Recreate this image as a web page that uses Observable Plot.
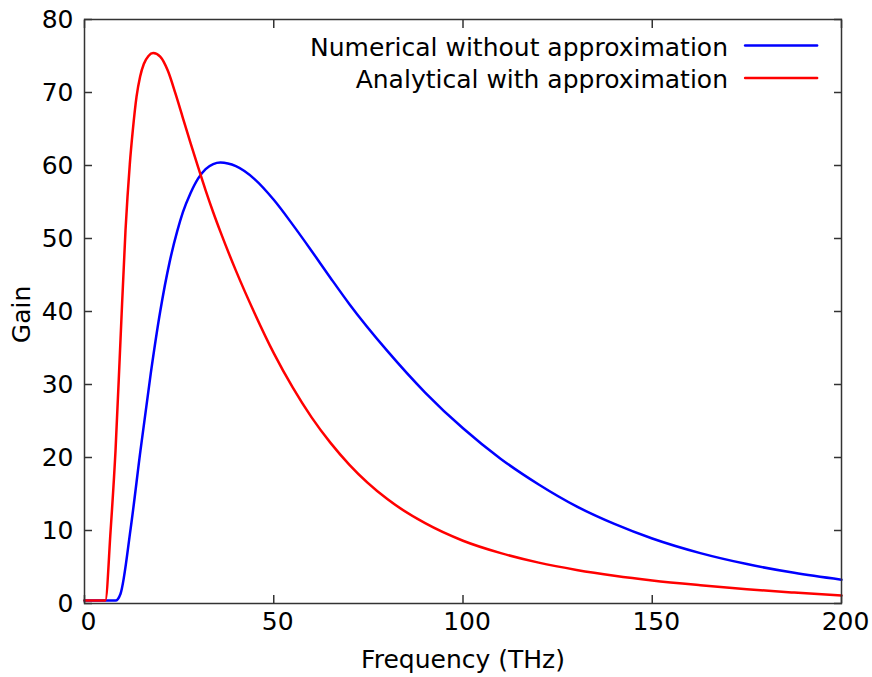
<!DOCTYPE html>
<html>
<head>
<meta charset="utf-8">
<script src="https://cdn.jsdelivr.net/npm/d3@7"></script>
<script src="https://cdn.jsdelivr.net/npm/@observablehq/plot@0.6"></script>
<style>
  html, body { margin: 0; padding: 0; background: white; }
</style>
</head>
<body>
<div id="chart"></div>
<script>
// Numerical without approximation (blue)
const freqNumerical = [0, 8.2, 9.5, 12.2, 14.8, 17.5, 20, 22.5, 24.5, 26, 28, 30, 32, 34, 35.9, 40, 45, 50, 55, 60, 65, 70, 80, 90, 100, 110, 120, 130, 140, 150, 162.7, 175, 187.5, 200];
const gainNumerical = [0.4, 0.4, 1.3, 10.3, 21, 31.5, 40, 46.8, 51.0, 53.6, 56.2, 58.2, 59.5, 60.2, 60.4, 59.9, 58.1, 55.3, 51.9, 48.3, 44.6, 41.0, 34.6, 28.9, 24.0, 19.8, 16.3, 13.3, 10.9, 8.9, 6.9, 5.4, 4.2, 3.25];

// Analytical with approximation (red)
const freqAnalytical = [0, 5.5, 6.9, 8.2, 9.5, 10.83, 11.36, 11.97, 12.76, 13.74, 14.7, 15.67, 16.9, 18.15, 20, 22, 24, 26, 28, 30, 32, 34, 36, 40, 45, 50, 55, 60, 65, 70, 80, 90, 100, 110, 120, 130, 140, 150, 162.7, 175, 187.5, 200];
const gainAnalytical = [0.4, 0.4, 10, 21, 36, 51.1, 55.7, 60.2, 64.8, 69.4, 72.2, 73.9, 75.0, 75.4, 74.9, 73.0, 69.9, 66.5, 63.1, 59.8, 56.6, 53.6, 50.8, 45.6, 39.7, 34.3, 29.6, 25.5, 22.0, 19.0, 14.3, 11.0, 8.6, 6.9, 5.6, 4.6, 3.8, 3.15, 2.5, 1.95, 1.5, 1.1];

const xTicks = [0, 50, 100, 150, 200];
const yTicks = [0, 10, 20, 30, 40, 50, 60, 70, 80];
const legendLabels = ["Numerical without approximation", "Analytical with approximation"];
const seriesColors = ["#0000ff", "#ff0000"];
const xLabel = "Frequency (THz)";
const yLabel = "Gain";

const numerical = freqNumerical.map((f, i) => ({f, g: gainNumerical[i]}));
const analytical = freqAnalytical.map((f, i) => ({f, g: gainAnalytical[i]}));

const axisColor = "#333";
const font = "DejaVu Sans";
const fs = 25;
const lineShape = {draw(context, l) { context.moveTo(0, 0); context.lineTo(l, 0); }};

const chart = Plot.plot({
  width: 872,
  height: 677,
  marginLeft: 84,
  marginRight: 31,
  marginTop: 19,
  marginBottom: 74,
  x: {domain: [0, 200]},
  y: {domain: [0, 80]},
  style: {fontFamily: font, fontSize: fs + "px", color: "black", background: "white"},
  marks: [
    Plot.line(numerical, {x: "f", y: "g", stroke: seriesColors[0], strokeWidth: 2.5, curve: "monotone-x"}),
    Plot.line(analytical, {x: "f", y: "g", stroke: seriesColors[1], strokeWidth: 2.5, curve: "monotone-x"}),
    // inward ticks on all four sides
    Plot.axisX({anchor: "bottom", ticks: xTicks, tickSize: 8, insetBottom: 8, tickFormat: () => "", stroke: axisColor, strokeWidth: 1.5, label: null}),
    Plot.axisX({anchor: "top", ticks: xTicks, tickSize: 8, insetTop: 8, tickFormat: () => "", stroke: axisColor, strokeWidth: 1.5, label: null}),
    Plot.axisY({anchor: "left", ticks: yTicks, tickSize: 8, insetLeft: 8, tickFormat: () => "", stroke: axisColor, strokeWidth: 1.5, label: null}),
    Plot.axisY({anchor: "right", ticks: yTicks, tickSize: 8, insetRight: 8, tickFormat: () => "", stroke: axisColor, strokeWidth: 1.5, label: null}),
    // tick labels
    Plot.axisX({anchor: "bottom", ticks: xTicks, tickSize: 0, tickPadding: 9, dx: 4, fill: "black", fontSize: fs, label: null}),
    Plot.axisY({anchor: "left", ticks: yTicks, tickSize: 0, tickPadding: 11, fill: "black", fontSize: fs, label: null}),
    Plot.frame({stroke: axisColor, strokeWidth: 1.5}),
    // axis titles
    Plot.text([xLabel], {frameAnchor: "bottom", textAnchor: "middle", dy: 56, lineAnchor: "middle", fontSize: fs, fill: "black"}),
    Plot.text([yLabel], {frameAnchor: "left", textAnchor: "middle", rotate: -90, dx: -63, dy: 3, lineAnchor: "middle", fontSize: fs, fill: "black"}),
    // legend
    Plot.text([legendLabels[0]], {frameAnchor: "top-right", textAnchor: "end", lineAnchor: "middle", dx: -113.5, dy: 28, fontSize: fs, fill: "black"}),
    Plot.text([legendLabels[1]], {frameAnchor: "top-right", textAnchor: "end", lineAnchor: "middle", dx: -113.5, dy: 60.5, fontSize: fs, fill: "black"}),
    Plot.vector([0], {frameAnchor: "top-right", dx: -96.4, dy: 26, length: 72, rotate: 0, anchor: "start", shape: lineShape, stroke: seriesColors[0], strokeWidth: 2.5}),
    Plot.vector([0], {frameAnchor: "top-right", dx: -96.4, dy: 58.5, length: 72, rotate: 0, anchor: "start", shape: lineShape, stroke: seriesColors[1], strokeWidth: 2.5})
  ]
});
document.getElementById("chart").appendChild(chart);
</script>
</body>
</html>
